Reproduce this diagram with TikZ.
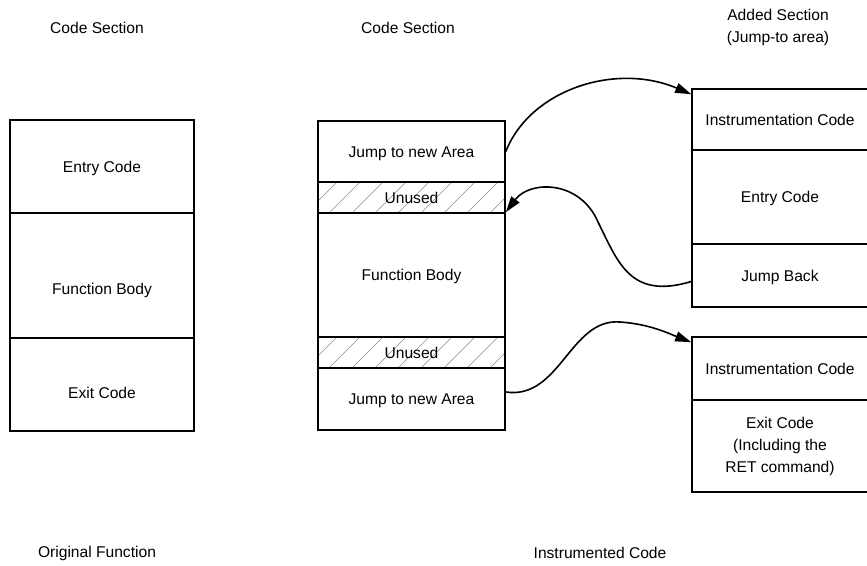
\documentclass[tikz,border=0pt]{standalone}
\usepackage{fontspec}
\setmainfont{Liberation Sans}
\usetikzlibrary{arrows.meta,backgrounds}
\begin{document}
\begin{tikzpicture}[x=1pt,y=-1pt,
  txt/.style={font=\fontsize{15.6}{22}\selectfont, align=center},
  cell/.style={txt, draw=black, line width=1.6pt, inner sep=0pt},
  oneline/.style={text height=11pt, text depth=0pt},
  lcol/.style={cell, minimum width=184pt},
  mcol/.style={cell, oneline, minimum width=187pt},
  rcol/.style={cell, minimum width=176pt},
  caption/.style={txt, inner sep=0pt},
  hatch/.style={black!45, line width=0.6pt},
  jump/.style={line width=1.6pt, -{Triangle[length=16pt,width=10pt]}},
]
\useasboundingbox (0,0) rectangle (867,565);

% column headings
\node[caption] (h1) at (97,28) {Code Section};
\node[caption] (h2) at (408,28) {Code Section};
\node[caption] (h3) at (778,27) {Added Section\\(Jump-to area)};

% original function
\node[lcol, oneline, minimum height=93pt] (le) at (102,166.5) {Entry Code};
\node[lcol, minimum height=125pt,
      label={[caption,yshift=-15pt]center:Function Body}] (lb) at (102,275.5) {};
\node[lcol, minimum height=93pt,
      label={[caption,yshift=-8pt]center:Exit Code}] (lx) at (102,384.5) {};

% instrumented function
\node[mcol, minimum height=61pt]  (mj1) at (411.5,151.5) {Jump to new Area};
\node[mcol, minimum height=31pt]  (mu1) at (411.5,197.5) {Unused};
\node[mcol, minimum height=124pt] (mb)  at (411.5,275)   {Function Body};
\node[mcol, minimum height=31pt]  (mu2) at (411.5,352.5) {Unused};
\node[mcol, minimum height=62pt]  (mj2) at (411.5,399)   {Jump to new Area};

% hatching of the unused slots
\begin{scope}[on background layer]
  \foreach \u in {mu1,mu2}{
    \begin{scope}
      \clip (\u.north west) rectangle (\u.south east);
      \foreach \i in {0,...,9}
        \draw[hatch] ([xshift=\i*23pt-12pt]\u.south west) -- ++(45,-45);
    \end{scope}
  }
\end{scope}

% added section
\node[rcol, oneline, minimum height=61pt] (ri1) at (780,119.5) {Instrumentation Code};
\node[rcol, oneline, minimum height=94pt] (re)  at (780,197)   {Entry Code};
\node[rcol, oneline, minimum height=63pt] (rb)  at (780,275.5) {Jump Back};
\node[rcol, oneline, minimum height=63pt] (ri2) at (780,368.5) {Instrumentation Code};
\node[rcol, minimum height=92pt] (rx)  at (780,446)   {Exit Code\\(Including the\\RET command)};

% jumps
\draw[jump] (mj1.east) .. controls (530,90) and (615,62) .. ([yshift=-6pt]ri1.north west);
\draw[jump] ([yshift=-6pt]rb.west) .. controls (630,300) and (618,262) .. (598,222)
            .. controls (580,180) and (530,180) .. (mb.north east);
\draw[jump] ([yshift=7pt]mj2.east) .. controls (560,400) and (570,318) .. (620,322)
            .. controls (650,324) and (670,334) .. ([yshift=-6pt]ri2.north west);

% captions
\node[caption] (f1) at (97,553) {Original Function};
\node[caption] (f2) at (600,553) {Instrumented Code};
\end{tikzpicture}
\end{document}
